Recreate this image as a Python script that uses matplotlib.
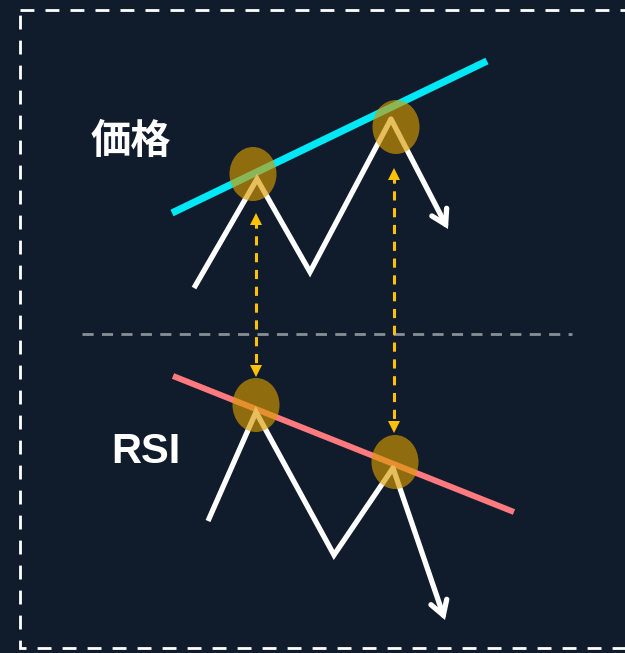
"""
Bearish divergence sketch: price higher high vs RSI lower high
"""
import matplotlib.pyplot as plt
from matplotlib.patches import Ellipse, Rectangle

plt.rcParams['font.family'] = ['Noto Sans CJK JP', 'DejaVu Sans']

# zigzag paths (canvas pixels, y downwards)
price_x = [194, 257, 310, 391, 448]
price_y = [288, 179, 272, 119, 229]
rsi_x = [208, 256, 334, 393, 445]
rsi_y = [521, 412, 555, 468, 620]

# trend lines
price_trend_x = [172, 487]
price_trend_y = [213, 61]
rsi_trend_x = [173, 514]
rsi_trend_y = [376, 512]

# highlighted highs
peak_x = [253, 396, 256, 395]
peak_y = [174, 127, 405, 462]

# vertical links between highs
link_x = [256, 394]
link_top = [213, 168]
link_bottom = [377, 433]

labels = ['価格', 'RSI']
label_x = [131, 146]
label_y = [141, 452]
label_font = [['Noto Sans CJK JP', 'DejaVu Sans'], ['Liberation Sans', 'DejaVu Sans']]
label_size = [29, 30]

bg = '#101b2c'
fig = plt.figure(figsize=(6.25, 6.53), dpi=100)
fig.patch.set_facecolor(bg)
ax = fig.add_axes([0, 0, 1, 1])
ax.set_facecolor(bg)
ax.set_xlim(0, 625)
ax.set_ylim(653, 0)
ax.axis('off')

# dashed frame
ax.add_patch(Rectangle((20, 10), 640, 638, fill=False, edgecolor='white',
                       lw=2, linestyle=(0, (5, 4)), zorder=1))

# separator
ax.plot([82, 572], [334, 334], color='#8a8f96', lw=2, linestyle=(0, (4, 3)), zorder=2)

# trend lines
ax.plot(price_trend_x, price_trend_y, color='#00e8f5', lw=5.2,
        solid_capstyle='butt', zorder=3)
ax.plot(rsi_trend_x, rsi_trend_y, color='#ff7a7f', lw=4.3,
        solid_capstyle='butt', zorder=3)

# zigzags with arrow heads
for xs, ys in [(price_x, price_y), (rsi_x, rsi_y)]:
    ax.plot(xs[:-1], ys[:-1], color='white', lw=3.8, solid_joinstyle='miter',
            solid_capstyle='butt', zorder=4)
    ax.annotate('', xy=(xs[-1], ys[-1]), xytext=(xs[-2], ys[-2]),
                arrowprops=dict(arrowstyle='->, head_length=1.0, head_width=0.6',
                                color='white', lw=3.8, shrinkA=0, shrinkB=0,
                                joinstyle='miter'), zorder=4)

# dashed double arrows
for x, y0, y1 in zip(link_x, link_top, link_bottom):
    ax.plot([x, x], [y0 + 6, y1 - 6], color='#ffc107', lw=2.2,
            linestyle=(0, (3, 2.5)), zorder=4)
    ax.plot([x], [y0 + 6], marker='^', color='#ffc107', ms=8, mew=0, zorder=4)
    ax.plot([x], [y1 - 6], marker='v', color='#ffc107', ms=8, mew=0, zorder=4)

# highlight circles
for cx, cy in zip(peak_x, peak_y):
    ax.add_patch(Ellipse((cx, cy), 47, 54, facecolor='#d89c00', alpha=0.64,
                         edgecolor='none', zorder=5))

for t, x, y, fam, fs in zip(labels, label_x, label_y, label_font, label_size):
    ax.text(x, y, t, color='white', fontsize=fs, family=fam,
            fontweight='bold', ha='center', va='center', zorder=6)

plt.savefig('out.png', dpi=100, facecolor=bg)
plt.close()
